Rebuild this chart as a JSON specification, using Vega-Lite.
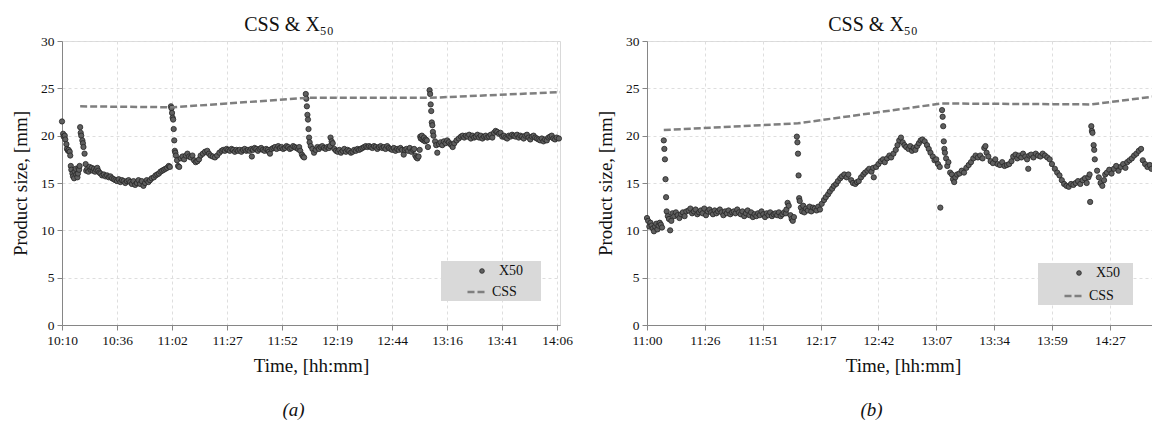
{
  "$schema": "https://vega.github.io/schema/vega-lite/v6.json",
  "background": "white",
  "padding": {"left": 11, "top": 14, "right": 0, "bottom": 0},
  "spacing": 22,
  "resolve": {"scale": {"shape": "independent", "strokeDash": "independent"}, "legend": {"shape": "independent", "strokeDash": "independent"}},
  "config": {
    "font": "Liberation Serif",
    "view": {"stroke": "#d9d9d9"},
    "axis": {
      "labelFont": "Liberation Serif", "titleFont": "Liberation Serif",
      "labelColor": "#111111", "titleColor": "#111111", "titleFontWeight": "normal",
      "labelFontSize": 13.5, "titleFontSize": 19,
      "domainColor": "#868686", "tickColor": "#868686", "tickSize": 5,
      "gridColor": "#dedede", "gridDash": [3, 3], "labelPadding": 3
    },
    "title": {"font": "Liberation Serif", "fontSize": 20, "fontWeight": "normal", "color": "#111111"},
    "legend": {
      "labelFont": "Liberation Serif", "labelFontSize": 14, "labelColor": "#111111",
      "fillColor": "#d9d9d9", "rowPadding": 0,
      "titleOrient": "right", "titleFontSize": 14, "titleFont": "Liberation Serif"
    }
  },
  "datasets": {
    "a": [
      {"i":0,"v":21.5},{"i":2,"v":20.2},{"i":3,"v":19.9},{"i":5,"v":20.0},{"i":6,"v":19.6},{"i":8,"v":19.1},{"i":9,"v":18.6},{"i":11,"v":18.4},{"i":12,"v":18.5},{"i":14,"v":18.3},{"i":15,"v":17.9},
      {"i":16,"v":16.8},{"i":17,"v":16.4},{"i":19,"v":16.0},{"i":20,"v":15.7},{"i":22,"v":15.5},{"i":23,"v":16.2},{"i":25,"v":16.5},{"i":26,"v":15.9},{"i":28,"v":15.6},{"i":29,"v":16.0},{"i":30,"v":16.6},{"i":31,"v":16.4},{"i":32,"v":16.8},
      {"i":33,"v":20.9},{"i":34,"v":20.3},{"i":35,"v":20.0},{"i":37,"v":19.5},{"i":38,"v":19.2},{"i":39,"v":18.8},{"i":41,"v":18.1},
      {"i":43,"v":17.0},{"i":44,"v":16.3},
      {"i":46,"v":16.5},{"i":48,"v":16.2},{"i":50,"v":16.7},{"i":52,"v":16.4},{"i":54,"v":16.6},{"i":56,"v":16.3},{"i":58,"v":16.5},{"i":60,"v":16.2},{"i":62,"v":16.4},{"i":64,"v":16.6},{"i":66,"v":16.3},{"i":68,"v":16.1},
      {"i":70,"v":16.0},{"i":73,"v":15.8},{"i":76,"v":15.9},{"i":79,"v":15.7},{"i":82,"v":15.8},{"i":85,"v":15.6},{"i":88,"v":15.7},{"i":91,"v":15.5},
      {"i":94,"v":15.4},{"i":97,"v":15.3},{"i":100,"v":15.2},{"i":103,"v":15.4},{"i":106,"v":15.1},{"i":109,"v":15.3},{"i":112,"v":15.2},{"i":115,"v":15.0},{"i":118,"v":15.2},{"i":121,"v":15.3},{"i":124,"v":15.1},
      {"i":127,"v":14.9},{"i":130,"v":15.2},{"i":133,"v":14.8},{"i":136,"v":15.0},{"i":139,"v":15.3},{"i":142,"v":14.9},{"i":145,"v":15.2},{"i":148,"v":14.7},{"i":151,"v":15.0},{"i":154,"v":15.3},{"i":157,"v":15.1},{"i":160,"v":15.3},{"i":163,"v":15.5},
      {"i":167,"v":15.6},{"i":170,"v":15.8},{"i":173,"v":15.9},{"i":176,"v":16.0},{"i":179,"v":16.2},{"i":182,"v":16.3},{"i":185,"v":16.4},{"i":188,"v":16.5},{"i":191,"v":16.6},{"i":194,"v":16.8},{"i":196,"v":16.7},
      {"i":198,"v":23.1},{"i":199,"v":22.9},{"i":200,"v":22.4},{"i":201,"v":21.9},{"i":202,"v":21.7},{"i":203,"v":20.7},{"i":204,"v":19.5},{"i":205,"v":18.4},{"i":206,"v":18.2},{"i":207,"v":17.9},
      {"i":209,"v":17.4},{"i":211,"v":16.8},{"i":213,"v":16.7},
      {"i":216,"v":17.6},{"i":219,"v":17.8},{"i":222,"v":17.5},{"i":225,"v":17.9},{"i":228,"v":18.1},{"i":231,"v":17.8},{"i":234,"v":17.7},{"i":237,"v":17.9},
      {"i":240,"v":17.4},{"i":243,"v":17.2},{"i":246,"v":17.3},{"i":249,"v":17.5},
      {"i":252,"v":17.9},{"i":256,"v":18.1},{"i":260,"v":18.3},{"i":264,"v":18.4},
      {"i":267,"v":18.1},{"i":270,"v":17.9},{"i":274,"v":17.8},{"i":278,"v":17.7},{"i":282,"v":17.9},{"i":286,"v":18.2},{"i":290,"v":18.4},
      {"i":293,"v":18.5},{"i":296,"v":18.4},{"i":299,"v":18.6},{"i":302,"v":18.5},{"i":305,"v":18.4},{"i":308,"v":18.6},{"i":311,"v":18.5},{"i":314,"v":18.3},{"i":317,"v":18.5},
      {"i":320,"v":18.4},{"i":323,"v":18.5},{"i":326,"v":18.3},{"i":329,"v":18.5},{"i":332,"v":18.6},{"i":335,"v":18.4},{"i":338,"v":18.5},{"i":341,"v":18.4},{"i":344,"v":18.6},{"i":345,"v":17.8},
      {"i":347,"v":18.5},{"i":350,"v":18.7},{"i":353,"v":18.6},{"i":356,"v":18.4},{"i":359,"v":18.6},{"i":362,"v":18.7},{"i":365,"v":18.5},{"i":368,"v":18.4},{"i":371,"v":18.6},{"i":374,"v":18.5},{"i":376,"v":18.3},{"i":378,"v":18.1},
      {"i":381,"v":18.6},{"i":384,"v":18.7},{"i":387,"v":18.8},{"i":390,"v":18.6},{"i":393,"v":18.9},{"i":396,"v":18.7},{"i":399,"v":18.8},{"i":402,"v":18.6},{"i":405,"v":18.7},{"i":408,"v":18.9},{"i":411,"v":18.8},{"i":414,"v":18.6},{"i":417,"v":18.7},{"i":420,"v":18.9},{"i":423,"v":18.8},{"i":426,"v":18.7},{"i":429,"v":18.6},{"i":431,"v":18.8},
      {"i":433,"v":18.4},{"i":436,"v":18.0},{"i":438,"v":17.8},{"i":440,"v":17.7},
      {"i":443,"v":24.4},{"i":444,"v":23.9},{"i":445,"v":23.1},{"i":446,"v":22.2},{"i":447,"v":21.7},{"i":448,"v":20.7},{"i":449,"v":19.8},{"i":450,"v":19.3},
      {"i":452,"v":18.9},{"i":455,"v":18.6},{"i":458,"v":18.2},{"i":461,"v":18.5},{"i":464,"v":18.8},
      {"i":467,"v":18.6},{"i":470,"v":18.8},{"i":473,"v":18.9},{"i":476,"v":18.7},{"i":479,"v":18.6},{"i":482,"v":18.8},{"i":485,"v":18.7},{"i":487,"v":18.9},
      {"i":488,"v":19.8},{"i":490,"v":19.4},{"i":492,"v":19.2},
      {"i":495,"v":18.6},{"i":498,"v":18.4},{"i":501,"v":18.3},{"i":504,"v":18.5},{"i":507,"v":18.2},{"i":510,"v":18.4},{"i":513,"v":18.6},{"i":516,"v":18.3},{"i":519,"v":18.5},{"i":522,"v":18.4},{"i":525,"v":18.2},{"i":528,"v":18.3},{"i":531,"v":18.5},{"i":534,"v":18.4},{"i":537,"v":18.6},
      {"i":540,"v":18.5},{"i":543,"v":18.6},{"i":546,"v":18.7},{"i":549,"v":18.8},{"i":552,"v":18.9},{"i":555,"v":18.8},{"i":558,"v":18.9},{"i":561,"v":18.8},{"i":564,"v":18.7},
      {"i":567,"v":18.9},{"i":570,"v":18.8},{"i":573,"v":18.6},{"i":576,"v":18.8},{"i":579,"v":18.9},{"i":582,"v":18.7},{"i":585,"v":18.8},{"i":588,"v":18.6},{"i":591,"v":18.9},{"i":594,"v":18.7},
      {"i":597,"v":18.6},{"i":600,"v":18.5},{"i":603,"v":18.7},{"i":606,"v":18.4},{"i":609,"v":18.6},{"i":612,"v":18.5},{"i":615,"v":18.7},{"i":618,"v":18.5},{"i":621,"v":18.0},
      {"i":623,"v":18.5},{"i":626,"v":18.6},{"i":629,"v":18.4},{"i":632,"v":18.7},{"i":635,"v":18.3},{"i":638,"v":18.5},{"i":640,"v":18.6},
      {"i":642,"v":17.9},{"i":644,"v":17.7},{"i":646,"v":17.6},{"i":648,"v":17.8},{"i":650,"v":18.5},
      {"i":651,"v":19.9},{"i":652,"v":19.7},{"i":654,"v":20.0},{"i":655,"v":19.6},{"i":657,"v":19.5},{"i":658,"v":19.8},{"i":660,"v":19.4},{"i":661,"v":19.6},{"i":663,"v":19.5},{"i":665,"v":18.8},
      {"i":668,"v":24.8},{"i":669,"v":24.4},{"i":670,"v":23.3},{"i":671,"v":22.6},{"i":672,"v":21.4},{"i":673,"v":21.1},{"i":674,"v":20.4},{"i":675,"v":20.0},
      {"i":678,"v":19.4},{"i":680,"v":19.0},{"i":682,"v":18.2},
      {"i":685,"v":19.1},{"i":688,"v":19.3},{"i":691,"v":19.0},{"i":694,"v":19.4},{"i":697,"v":19.2},{"i":700,"v":19.5},{"i":703,"v":19.3},{"i":706,"v":19.1},{"i":708,"v":19.0},{"i":710,"v":18.8},
      {"i":713,"v":19.2},{"i":717,"v":19.5},{"i":721,"v":19.7},{"i":725,"v":19.9},{"i":728,"v":20.0},
      {"i":731,"v":19.8},{"i":734,"v":20.0},{"i":737,"v":19.9},{"i":740,"v":20.1},{"i":743,"v":19.7},{"i":746,"v":20.0},{"i":749,"v":19.8},{"i":752,"v":19.9},{"i":755,"v":20.1},{"i":758,"v":19.8},{"i":761,"v":20.0},{"i":764,"v":19.7},{"i":767,"v":19.9},{"i":770,"v":20.0},{"i":773,"v":19.8},{"i":776,"v":19.9},{"i":779,"v":20.1},{"i":782,"v":19.8},
      {"i":785,"v":20.3},{"i":788,"v":20.5},{"i":791,"v":20.4},{"i":794,"v":20.2},{"i":797,"v":20.3},
      {"i":800,"v":19.9},{"i":803,"v":20.0},{"i":806,"v":19.8},{"i":809,"v":19.7},{"i":812,"v":20.0},{"i":815,"v":19.9},{"i":818,"v":20.1},
      {"i":821,"v":20.0},{"i":824,"v":19.9},{"i":827,"v":20.1},{"i":830,"v":19.8},{"i":833,"v":20.0},{"i":836,"v":19.9},{"i":839,"v":19.7},{"i":842,"v":20.0},{"i":845,"v":20.1},{"i":848,"v":19.8},{"i":851,"v":19.6},{"i":854,"v":19.9},{"i":857,"v":20.0},{"i":860,"v":19.8},{"i":863,"v":19.7},
      {"i":866,"v":19.6},{"i":869,"v":19.5},{"i":872,"v":19.7},{"i":875,"v":19.4},{"i":878,"v":19.6},{"i":881,"v":19.5},{"i":884,"v":19.8},{"i":887,"v":19.9},{"i":890,"v":20.0},{"i":893,"v":19.7},{"i":896,"v":19.6},{"i":899,"v":19.8},{"i":903,"v":19.7}
    ],
    "ca": [
      {"i":33,"v":23.1},{"i":202,"v":23.0},{"i":447,"v":24.0},{"i":669,"v":24.0},{"i":905,"v":24.6}
    ],
    "b": [
      {"i":0,"v":11.3},{"i":2,"v":11.0},{"i":4,"v":10.4},
      {"i":6,"v":10.8},{"i":8,"v":10.5},{"i":10,"v":10.2},{"i":12,"v":9.9},{"i":14,"v":10.4},{"i":16,"v":10.7},{"i":18,"v":10.1},{"i":20,"v":10.5},{"i":22,"v":10.8},{"i":24,"v":10.6},{"i":26,"v":10.3},
      {"i":29,"v":19.5},{"i":30,"v":18.6},{"i":31,"v":17.5},{"i":32,"v":15.4},{"i":33,"v":13.5},
      {"i":34,"v":12.0},{"i":36,"v":11.5},{"i":38,"v":11.2},{"i":40,"v":10.0},{"i":42,"v":11.0},
      {"i":44,"v":11.8},{"i":47,"v":11.5},{"i":50,"v":11.9},{"i":53,"v":11.6},{"i":56,"v":11.3},{"i":59,"v":11.7},{"i":62,"v":11.9},{"i":65,"v":11.5},{"i":68,"v":12.0},
      {"i":72,"v":12.1},{"i":75,"v":12.3},{"i":78,"v":11.8},{"i":81,"v":12.0},{"i":84,"v":12.2},{"i":87,"v":11.7},{"i":90,"v":11.9},{"i":93,"v":12.1},{"i":96,"v":11.8},{"i":99,"v":12.3},{"i":102,"v":11.6},{"i":105,"v":12.0},{"i":108,"v":12.2},{"i":111,"v":11.9},{"i":114,"v":11.7},{"i":117,"v":12.1},{"i":120,"v":11.8},{"i":123,"v":12.0},{"i":126,"v":12.2},{"i":129,"v":11.9},{"i":132,"v":11.6},{"i":135,"v":12.0},{"i":138,"v":11.8},{"i":141,"v":12.1},{"i":144,"v":11.7},{"i":147,"v":11.9},{"i":150,"v":12.0},{"i":153,"v":11.8},{"i":156,"v":12.2},
      {"i":159,"v":11.9},{"i":162,"v":11.7},{"i":165,"v":12.0},{"i":168,"v":11.5},{"i":171,"v":11.8},{"i":174,"v":12.1},{"i":177,"v":11.6},{"i":180,"v":11.9},{"i":183,"v":11.4},{"i":186,"v":11.7},{"i":189,"v":11.5},{"i":192,"v":11.8},{"i":195,"v":11.6},{"i":198,"v":12.0},{"i":201,"v":11.7},{"i":204,"v":11.4},{"i":207,"v":11.8},{"i":210,"v":11.6},{"i":213,"v":11.9},{"i":216,"v":11.5},{"i":219,"v":11.7},{"i":222,"v":11.8},{"i":225,"v":11.6},{"i":228,"v":11.9},{"i":231,"v":11.5},{"i":234,"v":11.7},{"i":237,"v":11.9},{"i":240,"v":11.8},
      {"i":241,"v":12.2},{"i":243,"v":12.9},{"i":245,"v":12.6},
      {"i":248,"v":11.6},{"i":250,"v":11.2},{"i":252,"v":11.0},{"i":254,"v":11.4},
      {"i":259,"v":19.9},{"i":260,"v":19.3},{"i":261,"v":18.1},{"i":262,"v":15.8},{"i":263,"v":13.4},{"i":264,"v":13.1},
      {"i":266,"v":12.4},{"i":268,"v":12.0},{"i":270,"v":12.6},{"i":272,"v":11.9},{"i":275,"v":12.3},{"i":278,"v":12.1},{"i":281,"v":12.5},{"i":284,"v":12.0},{"i":287,"v":12.4},
      {"i":290,"v":12.3},{"i":293,"v":12.1},{"i":296,"v":12.5},{"i":299,"v":12.2},
      {"i":302,"v":12.8},{"i":306,"v":13.2},{"i":309,"v":13.5},{"i":313,"v":13.8},{"i":316,"v":14.1},{"i":320,"v":14.4},{"i":323,"v":14.7},{"i":327,"v":14.9},{"i":330,"v":15.2},{"i":334,"v":15.5},{"i":337,"v":15.7},{"i":341,"v":15.9},
      {"i":345,"v":15.6},{"i":348,"v":15.9},
      {"i":353,"v":15.3},{"i":356,"v":15.0},{"i":360,"v":14.9},{"i":363,"v":15.1},
      {"i":366,"v":15.2},{"i":370,"v":15.6},{"i":374,"v":15.9},{"i":377,"v":16.1},{"i":381,"v":16.3},{"i":384,"v":16.5},{"i":388,"v":16.2},{"i":391,"v":16.6},{"i":392,"v":15.6},
      {"i":396,"v":16.7},{"i":400,"v":17.0},{"i":404,"v":17.3},{"i":408,"v":17.5},{"i":411,"v":17.2},{"i":415,"v":17.6},{"i":419,"v":17.9},{"i":422,"v":17.7},{"i":426,"v":18.1},
      {"i":430,"v":18.5},{"i":433,"v":19.0},{"i":436,"v":19.5},{"i":439,"v":19.8},
      {"i":442,"v":19.3},{"i":445,"v":19.0},{"i":448,"v":18.8},{"i":452,"v":18.6},{"i":455,"v":18.9},{"i":458,"v":18.4},{"i":461,"v":18.7},{"i":464,"v":18.5},{"i":467,"v":18.9},
      {"i":470,"v":19.2},{"i":473,"v":19.5},{"i":476,"v":19.6},{"i":480,"v":19.4},
      {"i":484,"v":19.0},{"i":487,"v":18.6},{"i":490,"v":18.2},{"i":494,"v":17.8},{"i":497,"v":17.4},{"i":500,"v":17.5},{"i":503,"v":17.0},{"i":506,"v":16.7},{"i":507,"v":12.4},
      {"i":510,"v":22.7},{"i":511,"v":22.0},{"i":512,"v":21.0},{"i":513,"v":19.4},{"i":514,"v":18.6},{"i":515,"v":18.2},
      {"i":517,"v":17.6},{"i":519,"v":16.8},{"i":521,"v":17.2},{"i":524,"v":16.1},
      {"i":527,"v":15.9},{"i":529,"v":15.4},{"i":531,"v":15.1},{"i":533,"v":15.6},
      {"i":536,"v":15.9},{"i":540,"v":16.0},{"i":544,"v":16.3},{"i":548,"v":16.1},{"i":552,"v":16.6},{"i":556,"v":16.9},{"i":560,"v":17.2},{"i":564,"v":17.6},{"i":568,"v":17.9},{"i":572,"v":17.7},{"i":576,"v":17.9},{"i":580,"v":17.6},
      {"i":583,"v":18.7},{"i":585,"v":18.9},{"i":587,"v":18.2},
      {"i":590,"v":17.8},{"i":594,"v":17.3},{"i":598,"v":17.1},{"i":602,"v":17.5},{"i":606,"v":17.0},{"i":610,"v":16.9},{"i":614,"v":17.2},{"i":618,"v":16.8},{"i":622,"v":16.9},{"i":626,"v":17.0},{"i":630,"v":17.3},
      {"i":633,"v":17.8},{"i":637,"v":18.0},{"i":640,"v":17.6},{"i":643,"v":17.9},{"i":647,"v":17.7},{"i":650,"v":18.1},{"i":654,"v":17.8},{"i":657,"v":17.5},{"i":659,"v":16.5},{"i":661,"v":17.9},{"i":664,"v":18.0},{"i":668,"v":17.7},{"i":672,"v":18.1},{"i":676,"v":17.9},{"i":680,"v":17.8},{"i":684,"v":18.1},{"i":688,"v":17.9},{"i":692,"v":17.7},
      {"i":696,"v":17.5},{"i":700,"v":17.0},{"i":705,"v":16.5},{"i":709,"v":16.1},
      {"i":713,"v":15.8},{"i":717,"v":15.3},{"i":721,"v":14.9},{"i":725,"v":14.7},{"i":729,"v":14.6},{"i":733,"v":14.9},
      {"i":737,"v":14.8},{"i":741,"v":15.0},{"i":745,"v":15.2},{"i":749,"v":14.9},{"i":753,"v":15.3},{"i":757,"v":15.5},{"i":760,"v":15.0},
      {"i":763,"v":15.6},{"i":765,"v":15.9},{"i":766,"v":13.0},
      {"i":768,"v":21.0},{"i":769,"v":20.5},{"i":770,"v":20.3},{"i":772,"v":19.0},{"i":773,"v":18.5},{"i":774,"v":17.5},
      {"i":778,"v":16.3},{"i":781,"v":15.6},{"i":784,"v":15.0},{"i":787,"v":14.7},{"i":790,"v":15.3},{"i":792,"v":15.9},
      {"i":795,"v":16.1},{"i":799,"v":16.4},{"i":803,"v":16.0},{"i":807,"v":16.5},{"i":811,"v":16.8},{"i":815,"v":16.3},{"i":819,"v":16.7},{"i":823,"v":17.0},{"i":827,"v":16.6},{"i":830,"v":17.2},
      {"i":834,"v":17.4},{"i":838,"v":17.6},{"i":842,"v":17.9},{"i":846,"v":18.1},{"i":850,"v":18.4},{"i":854,"v":18.6},
      {"i":857,"v":17.4},{"i":861,"v":17.0},{"i":865,"v":16.7},{"i":869,"v":16.9},{"i":872,"v":16.5}
    ],
    "cb": [
      {"i":29,"v":20.6},{"i":261,"v":21.3},{"i":509,"v":23.4},{"i":768,"v":23.3},{"i":885,"v":24.2}
    ]
  },
  "hconcat": [
    {
      "width": 498, "height": 284,
      "title": {"text": "CSS & X₅₀", "dx": -22, "offset": -1},
      "layer": [
        {
          "data": {"name": "a"},
          "mark": {"type": "point", "filled": true, "size": 28, "fill": "#5f5f5f", "stroke": "#262626", "strokeWidth": 0.8, "opacity": 1},
          "encoding": {
            "x": {"field": "i", "type": "quantitative", "scale": {"domain": [0, 905], "nice": false, "zero": false},
              "axis": {"values": [0,100,200,300,400,500,600,700,800,900], "labelExpr": "['10:10','10:36','11:02','11:27','11:52','12:19','12:44','13:16','13:41','14:06'][round(datum.value/100)]", "title": "Time, [hh:mm]", "grid": true, "titlePadding": 10, "labelOverlap": false, "labelFlush": false}},
            "y": {"field": "v", "type": "quantitative", "scale": {"domain": [0, 30], "nice": false},
              "axis": {"values": [0,5,10,15,20,25,30], "title": "Product size, [mm]", "grid": true, "titlePadding": 10}},
            "shape": {"datum": "X50", "type": "nominal", "scale": {"domain": ["X50"], "range": ["circle"]},
              "legend": {"title": "\u2003", "orient": "none", "legendX": 379, "legendY": 220, "padding": 3,
                "labelFont": "Liberation Serif", "labelFontSize": 14,
                "symbolSize": 22, "symbolOffset": 31, "labelOffset": 10, "titlePadding": 15, "symbolStrokeWidth": 0.8}}
          }
        },
        {
          "data": {"name": "ca"},
          "mark": {"type": "line", "color": "#7f7f7f", "strokeWidth": 2.5},
          "encoding": {
            "x": {"field": "i", "type": "quantitative",
              "axis": {"orient": "bottom", "title": "(a)", "titleFontStyle": "italic", "titleFontSize": 19, "labels": false, "ticks": false, "domain": false, "grid": false, "titlePadding": 75, "titleX": 231}},
            "y": {"field": "v", "type": "quantitative"},
            "strokeDash": {"datum": "CSS", "type": "nominal", "scale": {"domain": ["CSS"], "range": [[7, 3]]},
              "legend": {"title": "\u2003", "orient": "none", "legendX": 379, "legendY": 238, "padding": 2,
                "labelFont": "Liberation Serif", "labelFontSize": 14,
                "symbolSize": 361, "symbolOffset": 23, "labelOffset": 4, "titlePadding": 22, "symbolType": "stroke",
                "symbolStrokeWidth": 2.5, "symbolStrokeColor": "#7f7f7f"}}
          }
        }
      ],
      "resolve": {"axis": {"x": "independent"}}
    },
    {
      "width": 512, "height": 284,
      "title": {"text": "CSS & X₅₀", "dx": -30, "offset": -1},
      "layer": [
        {
          "data": {"name": "b"},
          "mark": {"type": "point", "filled": true, "size": 28, "fill": "#5f5f5f", "stroke": "#262626", "strokeWidth": 0.8, "opacity": 1},
          "encoding": {
            "x": {"field": "i", "type": "quantitative", "scale": {"domain": [0, 885], "nice": false, "zero": false},
              "axis": {"values": [0,100,200,300,400,500,600,700,800], "labelExpr": "['11:00','11:26','11:51','12:17','12:42','13:07','13:34','13:59','14:27'][round(datum.value/100)]", "title": "Time, [hh:mm]", "grid": true, "titlePadding": 10, "labelOverlap": false, "labelFlush": false}},
            "y": {"field": "v", "type": "quantitative", "scale": {"domain": [0, 30], "nice": false},
              "axis": {"values": [0,5,10,15,20,25,30], "title": "Product size, [mm]", "grid": true, "titlePadding": 10}},
            "shape": {"datum": "X50", "type": "nominal", "scale": {"domain": ["X50"], "range": ["circle"]},
              "legend": {"title": "\u2003", "orient": "none", "legendX": 391, "legendY": 222, "padding": 3,
                "labelFont": "Liberation Serif", "labelFontSize": 14,
                "symbolSize": 22, "symbolOffset": 31, "labelOffset": 10, "titlePadding": 10, "symbolStrokeWidth": 0.8}}
          }
        },
        {
          "data": {"name": "cb"},
          "mark": {"type": "line", "color": "#7f7f7f", "strokeWidth": 2.5},
          "encoding": {
            "x": {"field": "i", "type": "quantitative",
              "axis": {"orient": "bottom", "title": "(b)", "titleFontStyle": "italic", "titleFontSize": 19, "labels": false, "ticks": false, "domain": false, "grid": false, "titlePadding": 75, "titleX": 224}},
            "y": {"field": "v", "type": "quantitative"},
            "strokeDash": {"datum": "CSS", "type": "nominal", "scale": {"domain": ["CSS"], "range": [[7, 3]]},
              "legend": {"title": "\u2003", "orient": "none", "legendX": 391, "legendY": 242, "padding": 2,
                "labelFont": "Liberation Serif", "labelFontSize": 14,
                "symbolSize": 361, "symbolOffset": 23, "labelOffset": 4, "titlePadding": 17, "symbolType": "stroke",
                "symbolStrokeWidth": 2.5, "symbolStrokeColor": "#7f7f7f"}}
          }
        }
      ],
      "resolve": {"axis": {"x": "independent"}}
    }
  ]
}
